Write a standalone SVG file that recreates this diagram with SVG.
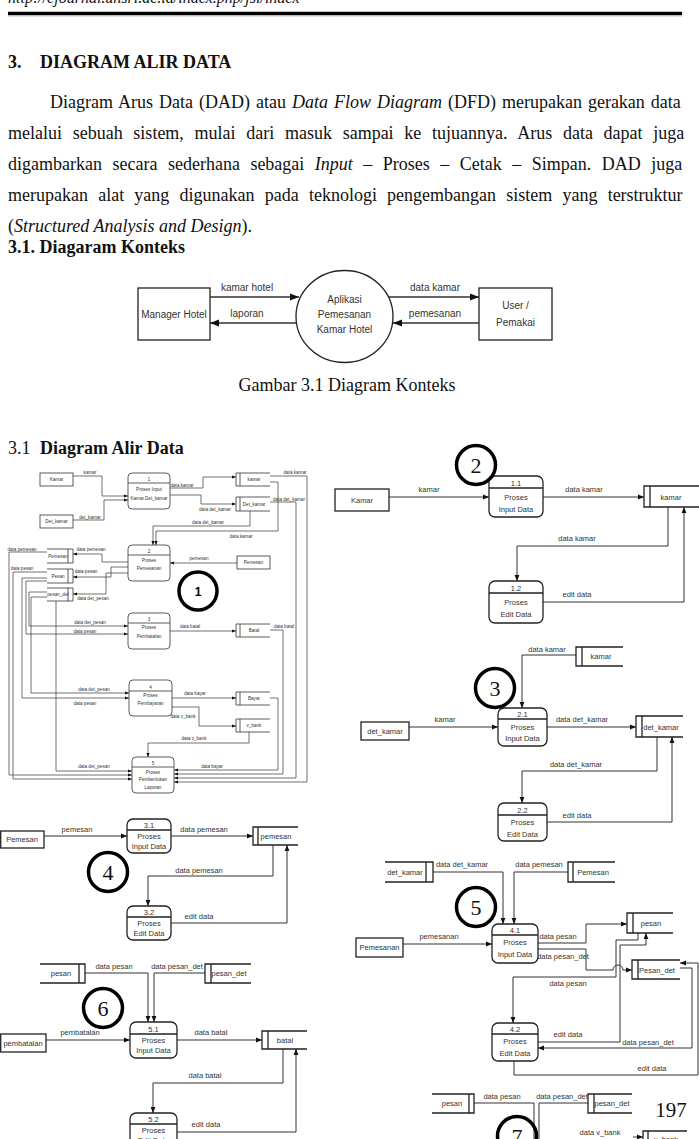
<svg xmlns="http://www.w3.org/2000/svg" width="699" height="1139" viewBox="0 0 699 1139">
<defs>
<marker id="aL" viewBox="0 0 10 10" refX="10" refY="5" markerWidth="9" markerHeight="9" markerUnits="userSpaceOnUse" orient="auto"><path d="M0,1 L10,5 L0,9 z" fill="#111"/></marker>
<marker id="aM" viewBox="0 0 10 10" refX="10" refY="5" markerWidth="6" markerHeight="6" markerUnits="userSpaceOnUse" orient="auto"><path d="M0,1 L10,5 L0,9 z" fill="#111"/></marker>
<marker id="aS" viewBox="0 0 10 10" refX="10" refY="5" markerWidth="4" markerHeight="4" markerUnits="userSpaceOnUse" orient="auto"><path d="M0,1 L10,5 L0,9 z" fill="#111"/></marker>
</defs>
<style>
.serif{font-family:"Liberation Serif","Times New Roman",serif;fill:#111}
.body{font-size:18px}
.b{font-weight:bold}
.i{font-style:italic}
.ln{fill:none;stroke:#333;stroke-width:1}
.ln0{fill:none;stroke:#333;stroke-width:0.7}
.cl{fill:none;stroke:#333;stroke-width:1.3}
.box{fill:#fff;stroke:#222;stroke-width:1.3}
.box1{fill:#fff;stroke:#333;stroke-width:0.8}
.st{fill:none;stroke:#222;stroke-width:1.3}
.st1{fill:none;stroke:#333;stroke-width:0.8}
.num{fill:none;stroke:#000;stroke-width:3.5}
.tc{font-family:"Liberation Sans",Arial,sans-serif;font-size:10px;fill:#333;text-anchor:middle}
.t8{font-family:"Liberation Sans",Arial,sans-serif;font-size:7.5px;fill:#333;text-anchor:middle}
.t5{font-family:"Liberation Sans",Arial,sans-serif;font-size:4.6px;fill:#333;text-anchor:middle}
.nt{font-family:"Liberation Serif","Times New Roman",serif;font-size:22px;fill:#111;text-anchor:middle}
</style>

<!-- page header and text -->
<text class="serif i" x="8" y="3" font-size="16">http://ejournal.unsri.ac.id/index.php/jsi/index</text>
<line x1="8" y1="13.5" x2="682" y2="13.5" stroke="#000" stroke-width="3.5"/>
<line x1="8" y1="16" x2="682" y2="16" stroke="#bbb" stroke-width="1"/>
<text class="serif body b" x="8" y="68">3.</text>
<text class="serif body b" x="40" y="68">DIAGRAM ALIR DATA</text>
<text class="serif body" x="50" y="108" word-spacing="1.5">Diagram Arus Data (DAD) atau <tspan class="i">Data Flow Diagram</tspan> (DFD) merupakan gerakan data</text>
<text class="serif body" x="8" y="139" word-spacing="6.2">melalui sebuah sistem, mulai dari masuk sampai ke tujuannya. Arus data dapat juga</text>
<text class="serif body" x="8" y="170" word-spacing="6">digambarkan secara sederhana sebagai <tspan class="i">Input</tspan> – Proses – Cetak – Simpan. DAD juga</text>
<text class="serif body" x="8" y="201" word-spacing="5.7">merupakan alat yang digunakan pada teknologi pengembangan sistem yang terstruktur</text>
<text class="serif body" x="8" y="232">(<tspan class="i">Structured Analysis and Design</tspan>).</text>
<text class="serif body b" x="8" y="253">3.1. Diagaram Konteks</text>

<!-- context diagram -->
<g id="ctx-manager"><rect class="box" x="138" y="288" width="72" height="52"/><text class="tc" x="174" y="317.5">Manager Hotel</text></g>
<g id="ctx-app"><ellipse cx="344.5" cy="316.5" rx="48.5" ry="46" fill="#fff" stroke="#222" stroke-width="1.3"/><text class="tc" x="344.5" y="303">Aplikasi</text><text class="tc" x="344.5" y="317.5">Pemesanan</text><text class="tc" x="344.5" y="333">Kamar Hotel</text></g>
<g id="ctx-user"><rect class="box" x="479" y="288" width="73" height="52"/><text class="tc" x="515.5" y="309">User /</text><text class="tc" x="515.5" y="325.5">Pemakai</text></g>
<g id="ctx-connectors">
<path class="cl" d="M210,297 H299" marker-end="url(#aL)"/>
<path class="cl" d="M297,323 H210" marker-end="url(#aL)"/>
<path class="cl" d="M389,297 H479" marker-end="url(#aL)"/>
<path class="cl" d="M479,323 H393" marker-end="url(#aL)"/>
<text class="tc" x="247" y="291">kamar hotel</text>
<text class="tc" x="247" y="317">laporan</text>
<text class="tc" x="435" y="291">data kamar</text>
<text class="tc" x="435" y="317">pemesanan</text>
</g>
<text class="serif body" x="347" y="391" text-anchor="middle">Gambar 3.1 Diagram Konteks</text>

<text class="serif body" x="8" y="454">3.1</text>
<text class="serif body b" x="40" y="454">Diagram Alir Data</text>

<!-- ============ Level 1 DFD ============ -->
<g id="l1-connectors">
<path class="ln0" d="M73,476 H102 V496 H128" marker-end="url(#aS)"/>
<path class="ln0" d="M73,520 H104 V500 H128" marker-end="url(#aS)"/>
<path class="ln0" d="M170,488 H203 V477 H236" marker-end="url(#aS)"/>
<path class="ln0" d="M170,495 H201 V504 H236" marker-end="url(#aS)"/>
<path class="ln0" d="M270,482 H278 V531 H156 V545" marker-end="url(#aS)"/>
<path class="ln0" d="M250,511 V526 H153 V545" marker-end="url(#aS)"/>
<path class="ln0" d="M237,563 H170" marker-end="url(#aS)"/>
<path class="ln0" d="M128,562 H102 V554 H73" marker-end="url(#aS)"/>
<path class="ln0" d="M128,567 H111 V577 H73" marker-end="url(#aS)"/>
<path class="ln0" d="M128,573 H106 V594 H73" marker-end="url(#aS)"/>
<path class="ln0" d="M47,552 H9 V775 H132" marker-end="url(#aS)"/>
<path class="ln0" d="M47,572 H13 V779 H132" marker-end="url(#aS)"/>
<path class="ln0" d="M47,578 H22 V698 H129" marker-end="url(#aS)"/>
<path class="ln0" d="M47,581 H26 V634 H128" marker-end="url(#aS)"/>
<path class="ln0" d="M47,592 H29 V626 H128" marker-end="url(#aS)"/>
<path class="ln0" d="M47,597 H31 V693 H129" marker-end="url(#aS)"/>
<path class="ln0" d="M56,601 V771 H132" marker-end="url(#aS)"/>
<path class="ln0" d="M170,631 H236" marker-end="url(#aS)"/>
<path class="ln0" d="M172,698 H236" marker-end="url(#aS)"/>
<path class="ln0" d="M172,707 H199 V726 H236" marker-end="url(#aS)"/>
<path class="ln0" d="M249,732 V743 H148 V757" marker-end="url(#aS)"/>
<path class="ln0" d="M270,698 H278 V770 H174" marker-end="url(#aS)"/>
<path class="ln0" d="M270,630 H283 V774 H174" marker-end="url(#aS)"/>
<path class="ln0" d="M270,502 H296 V778 H174" marker-end="url(#aS)"/>
<path class="ln0" d="M270,476 H307 V782 H174" marker-end="url(#aS)"/>
<text class="t5" x="90" y="474">kamar</text>
<text class="t5" x="90" y="519">det_kamar</text>
<text class="t5" x="182" y="486.5">data kamar</text>
<text class="t5" x="215" y="510.5">data det_kamar</text>
<text class="t5" x="295" y="473.5">data kamar</text>
<text class="t5" x="289" y="500.5">data det_kamar</text>
<text class="t5" x="208" y="523.5">data det_kamar</text>
<text class="t5" x="241" y="537.5">data kamar</text>
<text class="t5" x="199" y="559.5">pemesan</text>
<text class="t5" x="22" y="550.5">data pemesan</text>
<text class="t5" x="91" y="550.5">data pemesan</text>
<text class="t5" x="22" y="569.5">data pesan</text>
<text class="t5" x="86" y="572.5">data pesan</text>
<text class="t5" x="93" y="599.5">data det_pesan</text>
<text class="t5" x="90" y="623.5">data det_pesan</text>
<text class="t5" x="85" y="632.5">data pesan</text>
<text class="t5" x="190" y="627.5">data batal</text>
<text class="t5" x="284" y="627.5">data batal</text>
<text class="t5" x="94" y="690.5">data det_pesan</text>
<text class="t5" x="85" y="704.5">data pesan</text>
<text class="t5" x="195" y="694.5">data bayar</text>
<text class="t5" x="183" y="717.5">data v_bank</text>
<text class="t5" x="194" y="739.5">data v_bank</text>
<text class="t5" x="94" y="767.5">data det_pesan</text>
<text class="t5" x="212" y="767.5">data bayar</text>
</g>
<g id="l1-ext-kamar"><rect class="box1" x="40" y="473" width="33" height="13"/><text class="t5" x="56.5" y="481">Kamar</text></g>
<g id="l1-ext-detkamar"><rect class="box1" x="40" y="515" width="33" height="13"/><text class="t5" x="56.5" y="523">Det_kamar</text></g>
<g id="l1-ext-pemesan"><rect class="box1" x="237" y="556" width="33" height="13"/><text class="t5" x="253.5" y="564">Pemesan</text></g>
<g id="l1-p1"><rect class="box1" x="128" y="473" width="42" height="36" rx="4"/><line class="st1" x1="128" y1="483" x2="170" y2="483"/><text class="t5" x="149" y="480.5">1</text><text class="t5" x="149" y="491">Proses Input</text><text class="t5" x="149" y="500">Kamar.Det_kamar</text></g>
<g id="l1-p2"><rect class="box1" x="128" y="545" width="42" height="36" rx="4"/><line class="st1" x1="128" y1="555" x2="170" y2="555"/><text class="t5" x="149" y="552.5">2</text><text class="t5" x="149" y="562">Proses</text><text class="t5" x="149" y="570">Pemesanan</text></g>
<g id="l1-p3"><rect class="box1" x="128" y="613" width="42" height="36" rx="4"/><line class="st1" x1="128" y1="623" x2="170" y2="623"/><text class="t5" x="149" y="620.5">3</text><text class="t5" x="149" y="629">Proses</text><text class="t5" x="149" y="638">Pembatalan</text></g>
<g id="l1-p4"><rect class="box1" x="129" y="680" width="43" height="36" rx="4"/><line class="st1" x1="129" y1="691" x2="172" y2="691"/><text class="t5" x="150.5" y="688.5">4</text><text class="t5" x="150.5" y="697">Proses</text><text class="t5" x="150.5" y="705">Pembayaran</text></g>
<g id="l1-p5"><rect class="box1" x="132" y="757" width="42" height="36" rx="4"/><line class="st1" x1="132" y1="767" x2="174" y2="767"/><text class="t5" x="153" y="764.5">5</text><text class="t5" x="153" y="774">Proses</text><text class="t5" x="153" y="781">Pembentukan</text><text class="t5" x="153" y="789">Laporan</text></g>
<g id="l1-st-kamar"><path class="st1" d="M270,473 H236 V486 H270 M240,473 V486"/><text class="t5" x="254" y="481">kamar</text></g>
<g id="l1-st-detkamar"><path class="st1" d="M270,497 H236 V511 H270 M240,497 V511"/><text class="t5" x="254" y="505.5">Det_kamar</text></g>
<g id="l1-st-batal"><path class="st1" d="M270,624 H236 V637 H270 M240,624 V637"/><text class="t5" x="254" y="632">Batal</text></g>
<g id="l1-st-bayar"><path class="st1" d="M270,692 H236 V705 H270 M240,692 V705"/><text class="t5" x="254" y="700">Bayar</text></g>
<g id="l1-st-vbank"><path class="st1" d="M270,719 H236 V732 H270 M240,719 V732"/><text class="t5" x="254" y="727">v_bank</text></g>
<g id="l1-st-pemesan"><path class="st1" d="M47,549 H73 V563 H47 M68,549 V563"/><text class="t5" x="58" y="557.5">Pemesan</text></g>
<g id="l1-st-pesan"><path class="st1" d="M47,569 H73 V583 H47 M68,569 V583"/><text class="t5" x="58" y="577.5">Pesan</text></g>
<g id="l1-st-pesandet"><path class="st1" d="M47,588 H73 V601 H47 M68,588 V601"/><text class="t5" x="58" y="596">pesan_det</text></g>
<g id="l1-badge"><circle class="num" cx="198" cy="591" r="19"/><text x="198" y="595.5" font-family="Liberation Sans, Arial, sans-serif" font-size="12" font-weight="bold" text-anchor="middle">1</text></g>

<!-- ============ Diagram 2 ============ -->
<g id="d2-connectors">
<path class="ln" d="M389,497 H489" marker-end="url(#aM)"/>
<path class="ln" d="M543,497 H644" marker-end="url(#aM)"/>
<path class="ln" d="M668,507 V546 H517 V581" marker-end="url(#aM)"/>
<path class="ln" d="M543,602 H684 V507" marker-end="url(#aM)"/>
<text class="t8" x="429" y="491.5">kamar</text>
<text class="t8" x="584" y="491.5">data kamar</text>
<text class="t8" x="577" y="540.5">data kamar</text>
<text class="t8" x="577" y="596.5">edit data</text>
</g>
<g id="d2-ext-kamar"><rect class="box" x="335" y="489" width="54" height="22"/><text class="t8" x="362" y="503">Kamar</text></g>
<g id="d2-p11"><rect class="box" x="489" y="476" width="54" height="41" rx="6"/><line class="st" x1="489" y1="488" x2="543" y2="488"/><text class="t8" x="516" y="486">1.1</text><text class="t8" x="516" y="499.5">Proses</text><text class="t8" x="516" y="512">Input Data</text></g>
<g id="d2-p12"><rect class="box" x="489" y="581" width="54" height="42" rx="6"/><line class="st" x1="489" y1="593" x2="543" y2="593"/><text class="t8" x="516" y="591">1.2</text><text class="t8" x="516" y="604.5">Proses</text><text class="t8" x="516" y="617">Edit Data</text></g>
<g id="d2-st-kamar"><path class="st" d="M699,486 H644 V507 H699 M650,486 V507"/><text class="t8" x="671" y="499.5">kamar</text></g>
<g id="d2-badge"><circle class="num" cx="476" cy="465" r="19.5"/><text class="nt" x="476" y="473">2</text></g>

<!-- ============ Diagram 3 ============ -->
<g id="d3-connectors">
<path class="ln" d="M576,655 H522 V708" marker-end="url(#aM)"/>
<path class="ln" d="M409,727 H498" marker-end="url(#aM)"/>
<path class="ln" d="M547,727 H636" marker-end="url(#aM)"/>
<path class="ln" d="M657,737 V771 H522 V803" marker-end="url(#aM)"/>
<path class="ln" d="M547,822 H672 V737" marker-end="url(#aM)"/>
<text class="t8" x="547" y="652">data kamar</text>
<text class="t8" x="445" y="722">kamar</text>
<text class="t8" x="582" y="722">data det_kamar</text>
<text class="t8" x="576" y="767">data det_kamar</text>
<text class="t8" x="577" y="818">edit data</text>
</g>
<g id="d3-st-kamar"><path class="st" d="M623,647 H576 V666 H623 M582,647 V666"/><text class="t8" x="601" y="658.5">kamar</text></g>
<g id="d3-ext-detkamar"><rect class="box" x="361" y="722" width="48" height="18"/><text class="t8" x="385" y="733.5">det_kamar</text></g>
<g id="d3-p21"><rect class="box" x="498" y="708" width="49" height="38" rx="6"/><line class="st" x1="498" y1="719" x2="547" y2="719"/><text class="t8" x="522.5" y="717">2.1</text><text class="t8" x="522.5" y="729.5">Proses</text><text class="t8" x="522.5" y="741">Input Data</text></g>
<g id="d3-p22"><rect class="box" x="498" y="803" width="49" height="38" rx="6"/><line class="st" x1="498" y1="815" x2="547" y2="815"/><text class="t8" x="522.5" y="812.5">2.2</text><text class="t8" x="522.5" y="825">Proses</text><text class="t8" x="522.5" y="836.5">Edit Data</text></g>
<g id="d3-st-detkamar"><path class="st" d="M683,716 H636 V737 H683 M642,716 V737"/><text class="t8" x="661" y="729.5">det_kamar</text></g>
<g id="d3-badge"><circle class="num" cx="495" cy="688" r="19.5"/><text class="nt" x="495" y="696">3</text></g>

<!-- ============ Diagram 4 ============ -->
<g id="d4-connectors">
<path class="ln" d="M44,836 H127" marker-end="url(#aM)"/>
<path class="ln" d="M171,836 H253" marker-end="url(#aM)"/>
<path class="ln" d="M273,845 V876 H148 V906" marker-end="url(#aM)"/>
<path class="ln" d="M171,923 H287 V845" marker-end="url(#aM)"/>
<text class="t8" x="77" y="832">pemesan</text>
<text class="t8" x="204" y="832">data pemesan</text>
<text class="t8" x="199" y="873">data pemesan</text>
<text class="t8" x="199" y="919">edit data</text>
</g>
<g id="d4-ext-pemesan"><rect class="box" x="0.7" y="831" width="43.3" height="17"/><text class="t8" x="22" y="842">Pemesan</text></g>
<g id="d4-p31"><rect class="box" x="127" y="819" width="44" height="34" rx="6"/><line class="st" x1="127" y1="830" x2="171" y2="830"/><text class="t8" x="149" y="827.5">3.1</text><text class="t8" x="149" y="838.5">Proses</text><text class="t8" x="149" y="848.5">Input Data</text></g>
<g id="d4-p32"><rect class="box" x="127" y="906" width="44" height="34" rx="6"/><line class="st" x1="127" y1="917" x2="171" y2="917"/><text class="t8" x="149" y="914.5">3.2</text><text class="t8" x="149" y="925.5">Proses</text><text class="t8" x="149" y="935.5">Edit Data</text></g>
<g id="d4-st-pemesan"><path class="st" d="M298,827 H253 V845 H298 M258,827 V845"/><text class="t8" x="276" y="838.5">pemesan</text></g>
<g id="d4-badge"><circle class="num" cx="108" cy="872" r="19.5"/><text class="nt" x="108" y="880">4</text></g>

<!-- ============ Diagram 5 ============ -->
<g id="d5-connectors">
<path class="ln" d="M433,872 H503 V924" marker-end="url(#aM)"/>
<path class="ln" d="M568,872 H514 V924" marker-end="url(#aM)"/>
<path class="ln" d="M403,944 H492" marker-end="url(#aM)"/>
<path class="ln" d="M538,943 H586 V924 H627" marker-end="url(#aM)"/>
<path class="ln" d="M538,949 H586 V970 H613 a5,5 0 0 1 10,0 H632" marker-end="url(#aM)"/>
<path class="ln" d="M638,933 V940 H616 V977 H513 V1023" marker-end="url(#aM)"/>
<path class="ln" d="M538,1042 H620 V945 H646 V933" marker-end="url(#aM)"/>
<path class="ln" d="M680,968 H692 V1048 H538" marker-end="url(#aM)"/>
<path class="ln" d="M514,1061 V1075 H698 V963 H680" marker-end="url(#aM)"/>
<text class="t8" x="462" y="867">data det_kamar</text>
<text class="t8" x="539" y="867">data pemesan</text>
<text class="t8" x="439" y="939">pemesanan</text>
<text class="t8" x="558" y="939">data pesan</text>
<text class="t8" x="563" y="959">data pesan_det</text>
<text class="t8" x="568" y="986">data pesan</text>
<text class="t8" x="568" y="1037">edit data</text>
<text class="t8" x="648" y="1045">data pesan_det</text>
<text class="t8" x="652" y="1071">edit data</text>
</g>
<g id="d5-st-detkamar"><path class="st" d="M385,862 H433 V882 H385 M426,862 V882"/><text class="t8" x="405" y="874.5">det_kamar</text></g>
<g id="d5-st-pemesan"><path class="st" d="M615,862 H568 V882 H615 M573,862 V882"/><text class="t8" x="593" y="874.5">Pemesan</text></g>
<g id="d5-ext-pemesanan"><rect class="box" x="356" y="938" width="47" height="19"/><text class="t8" x="379.5" y="950">Pemesanan</text></g>
<g id="d5-p41"><rect class="box" x="492" y="924" width="46" height="39" rx="6"/><line class="st" x1="492" y1="935" x2="538" y2="935"/><text class="t8" x="515" y="932.5">4.1</text><text class="t8" x="515" y="945">Proses</text><text class="t8" x="515" y="957">Input Data</text></g>
<g id="d5-p42"><rect class="box" x="492" y="1023" width="46" height="38" rx="6"/><line class="st" x1="492" y1="1034" x2="538" y2="1034"/><text class="t8" x="515" y="1031.5">4.2</text><text class="t8" x="515" y="1044">Proses</text><text class="t8" x="515" y="1056">Edit Data</text></g>
<g id="d5-st-pesan"><path class="st" d="M673,913 H627 V933 H673 M633,913 V933"/><text class="t8" x="651" y="925.5">pesan</text></g>
<g id="d5-st-pesandet"><path class="st" d="M680,960 H632 V979 H680 M638,960 V979"/><text class="t8" x="657" y="972.5">Pesan_det</text></g>
<g id="d5-badge"><circle class="num" cx="476" cy="907" r="19.5"/><text class="nt" x="476" y="915">5</text></g>

<!-- ============ Diagram 6 ============ -->
<g id="d6-connectors">
<path class="ln" d="M85,973 H148 V1022" marker-end="url(#aM)"/>
<path class="ln" d="M205,973 H154 V1022" marker-end="url(#aM)"/>
<path class="ln" d="M46,1040 H130" marker-end="url(#aM)"/>
<path class="ln" d="M177,1040 H262" marker-end="url(#aM)"/>
<path class="ln" d="M283,1049 V1083 H153 V1113" marker-end="url(#aM)"/>
<path class="ln" d="M177,1132 H296 V1049" marker-end="url(#aM)"/>
<text class="t8" x="114" y="968.5">data pesan</text>
<text class="t8" x="177" y="968.5">data pesan_det</text>
<text class="t8" x="80" y="1035">pembatalan</text>
<text class="t8" x="211" y="1035">data batal</text>
<text class="t8" x="205" y="1078">data batal</text>
<text class="t8" x="206" y="1127">edit data</text>
</g>
<g id="d6-st-pesan"><path class="st" d="M40,964 H85 V983 H40 M79,964 V983"/><text class="t8" x="61" y="975.5">pesan</text></g>
<g id="d6-st-pesandet"><path class="st" d="M251,964 H205 V983 H251 M211,964 V983"/><text class="t8" x="229" y="975.5">pesan_det</text></g>
<g id="d6-ext-pembatalan"><rect class="box" x="0.7" y="1034" width="45.3" height="18"/><text class="t8" x="23" y="1045.5">pembatalan</text></g>
<g id="d6-p51"><rect class="box" x="130" y="1022" width="47" height="36" rx="6"/><line class="st" x1="130" y1="1034" x2="177" y2="1034"/><text class="t8" x="153.5" y="1031.5">5.1</text><text class="t8" x="153.5" y="1043">Proses</text><text class="t8" x="153.5" y="1053">Input Data</text></g>
<g id="d6-p52"><rect class="box" x="130" y="1113" width="47" height="40" rx="6"/><line class="st" x1="130" y1="1124" x2="177" y2="1124"/><text class="t8" x="153.5" y="1122">5.2</text><text class="t8" x="153.5" y="1133">Proses</text><text class="t8" x="153.5" y="1142.5">Edit Data</text></g>
<g id="d6-st-batal"><path class="st" d="M307,1031 H262 V1049 H307 M268,1031 V1049"/><text class="t8" x="285" y="1042.5">batal</text></g>
<g id="d6-badge"><circle class="num" cx="103" cy="1008" r="19.5"/><text class="nt" x="103" y="1016">6</text></g>

<!-- ============ Diagram 7 (partial) ============ -->
<g id="d7-connectors">
<path class="ln" d="M474,1103 H534 V1139"/>
<path class="ln" d="M588,1103 H539 V1139"/>
<path class="ln" d="M633,1137 H643" marker-end="url(#aM)"/>
<text class="t8" x="502" y="1098.5">data pesan</text>
<text class="t8" x="562" y="1098.5">data pesan_det</text>
<text class="t8" x="600" y="1135">data v_bank</text>
</g>
<g id="d7-st-pesan"><path class="st" d="M432,1094 H474 V1113 H432 M469,1094 V1113"/><text class="t8" x="452" y="1106">pesan</text></g>
<g id="d7-st-pesandet"><path class="st" d="M632,1094 H588 V1113 H632 M594,1094 V1113"/><text class="t8" x="612" y="1106">pesan_det</text></g>
<g id="d7-st-vbank"><path class="st" d="M687,1131 H643 V1145 M648,1131 V1145"/><text class="t8" x="666" y="1142">v_bank</text></g>
<g id="d7-badge"><circle class="num" cx="517" cy="1136" r="19.5"/><text class="nt" x="517" y="1144">7</text></g>

<text class="serif" x="671" y="1117" font-size="21" text-anchor="middle">197</text>
</svg>
